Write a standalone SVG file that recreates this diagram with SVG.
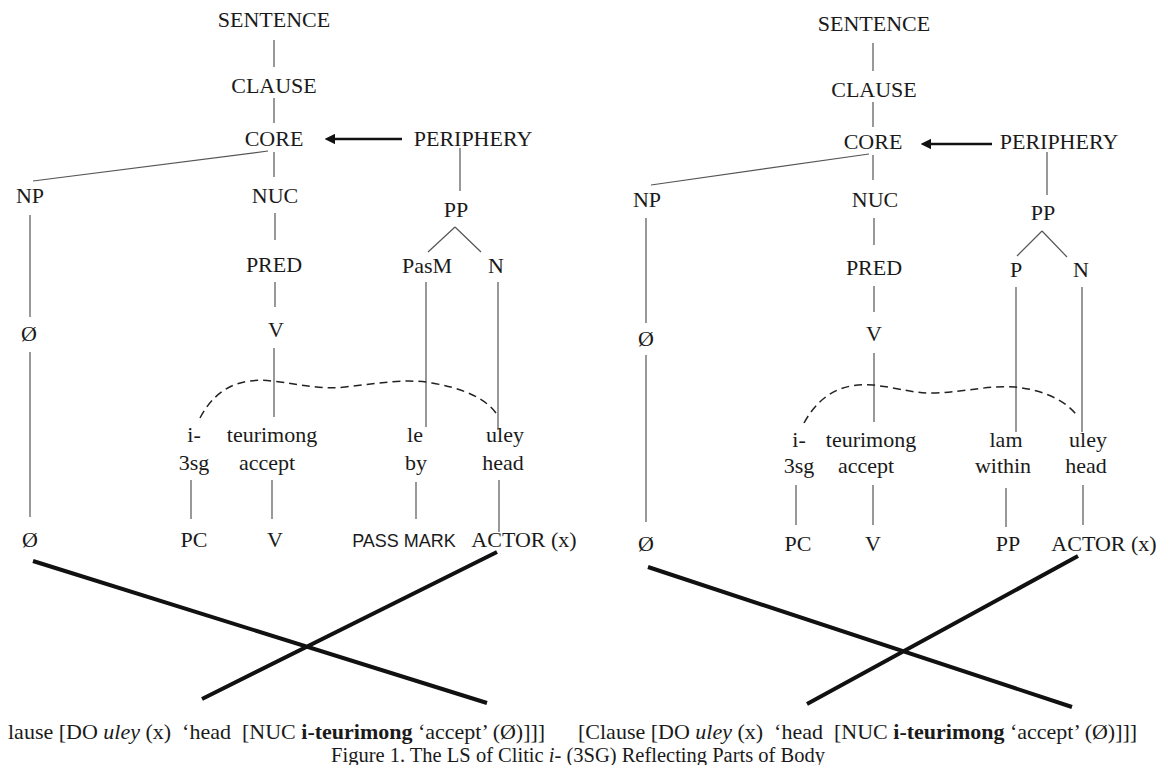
<svg xmlns="http://www.w3.org/2000/svg" width="1161" height="765" viewBox="0 0 1161 765">
<style>
text{font-family:"Liberation Serif","Times New Roman",serif;font-size:22px;fill:#1a1a1a;text-anchor:middle}
.sans{font-family:"Liberation Sans",Arial,sans-serif;font-size:18px}
.tl{fill:none;stroke:#555;stroke-width:1.2}
.dash{fill:none;stroke:#222;stroke-width:1.5;stroke-dasharray:8 5}
.arr{stroke:#111;stroke-width:2.6;fill:none}
.x{stroke:#111;stroke-width:4}
.bt{text-anchor:start}
.cap{font-size:20.5px}
</style>
<defs>
<marker id="ah" viewBox="0 0 10 10" refX="1" refY="5" markerWidth="4" markerHeight="4" orient="auto-start-reverse"><path d="M0,0 L10,5 L0,10 z" fill="#111"/></marker>
</defs>
<rect width="1161" height="765" fill="#fff"/>

<g id="connectors">
<!-- left tree -->
<path class="tl" d="M274,40V67 M274,98V123 M274,152V177 M268,151L33,181 M275,213V240 M275,282V307 M274,348V417 M460,148V191 M455,227L428,252 M455,227L481,252 M426,282V427 M498,282V430 M30,215V317 M30,352V517 M191,480V519 M272,480V519 M416,482V519 M499,480V532"/>
<path class="arr" d="M402,139H334" marker-end="url(#ah)"/>
<path class="dash" d="M200,418 C218,384 245,378 272,381 C300,384 320,390 345,387 C375,384 405,378 432,383 C462,388 485,398 496,413"/>
<path class="x" d="M33,561L487,703 M497,552L202,699"/>
<!-- right tree -->
<path class="tl" d="M873,43V71 M873,102V127 M873,155V180 M869,154L651,185 M874,218V245 M874,286V312 M874,353V422 M1047,152V195 M1042,231L1017,256 M1042,231L1067,257 M1016,287V432 M1082,287V432 M646,218V323 M646,355V522 M796,485V525 M873,485V525 M1006,488V527 M1083,485V525"/>
<path class="arr" d="M992,144H930" marker-end="url(#ah)"/>
<path class="dash" d="M804,423 C822,390 848,383 873,385 C900,388 915,394 936,393 C965,392 990,385 1015,387 C1045,390 1068,402 1078,417"/>
<path class="x" d="M648,567L1072,707 M1078,556L807,704"/>
</g>

<g id="left-tree">
<g id="l-sentence"><text x="274" y="27">SENTENCE</text></g>
<g id="l-clause"><text x="274" y="93">CLAUSE</text></g>
<g id="l-core"><text x="274" y="146">CORE</text></g>
<g id="l-periphery"><text x="473" y="146">PERIPHERY</text></g>
<g id="l-np"><text x="30" y="203">NP</text></g>
<g id="l-nuc"><text x="275" y="203">NUC</text></g>
<g id="l-pp"><text x="456" y="217">PP</text></g>
<g id="l-pred"><text x="274" y="272">PRED</text></g>
<g id="l-pasm"><text x="427" y="273">PasM</text></g>
<g id="l-n"><text x="496" y="273">N</text></g>
<g id="l-null1"><text x="29" y="341">Ø</text></g>
<g id="l-v"><text x="276" y="337">V</text></g>
<g id="l-i"><text x="194" y="442">i-</text><text x="194" y="470">3sg</text></g>
<g id="l-teurimong"><text x="272" y="442">teurimong</text><text x="267" y="470">accept</text></g>
<g id="l-le"><text x="415" y="442">le</text><text x="416" y="470">by</text></g>
<g id="l-uley"><text x="505" y="442">uley</text><text x="503" y="470">head</text></g>
<g id="l-null2"><text x="30" y="547">Ø</text></g>
<g id="l-pc"><text x="194" y="547">PC</text></g>
<g id="l-v2"><text x="275" y="547">V</text></g>
<g id="l-passmark"><text class="sans" x="404" y="547">PASS MARK</text></g>
<g id="l-actor"><text x="524" y="547">ACTOR (x)</text></g>
<g id="l-ls"><text class="bt" x="8" y="739" font-size="18" xml:space="preserve">lause [DO <tspan font-style="italic">uley</tspan> (x)  ‘head  [NUC <tspan font-weight="bold">i-teurimong</tspan> ‘accept’ (Ø)]]]</text></g>
</g>

<g id="right-tree">
<g id="r-sentence"><text x="874" y="31">SENTENCE</text></g>
<g id="r-clause"><text x="874" y="97">CLAUSE</text></g>
<g id="r-core"><text x="873" y="149">CORE</text></g>
<g id="r-periphery"><text x="1059" y="149">PERIPHERY</text></g>
<g id="r-np"><text x="647" y="207">NP</text></g>
<g id="r-nuc"><text x="875" y="207">NUC</text></g>
<g id="r-pp"><text x="1043" y="220">PP</text></g>
<g id="r-pred"><text x="874" y="275">PRED</text></g>
<g id="r-p"><text x="1016" y="277">P</text></g>
<g id="r-n"><text x="1081" y="277">N</text></g>
<g id="r-null1"><text x="646" y="346">Ø</text></g>
<g id="r-v"><text x="874" y="341">V</text></g>
<g id="r-i"><text x="799" y="447">i-</text><text x="799" y="473">3sg</text></g>
<g id="r-teurimong"><text x="871" y="447">teurimong</text><text x="866" y="473">accept</text></g>
<g id="r-lam"><text x="1006" y="447">lam</text><text x="1003" y="473">within</text></g>
<g id="r-uley"><text x="1088" y="447">uley</text><text x="1086" y="473">head</text></g>
<g id="r-null2"><text x="646" y="551">Ø</text></g>
<g id="r-pc"><text x="798" y="551">PC</text></g>
<g id="r-v2"><text x="873" y="551">V</text></g>
<g id="r-pp2"><text x="1008" y="551">PP</text></g>
<g id="r-actor"><text x="1104" y="551">ACTOR (x)</text></g>
<g id="r-ls"><text class="bt" x="578" y="739" font-size="20" xml:space="preserve">[Clause [DO <tspan font-style="italic">uley</tspan> (x)  ‘head  [NUC <tspan font-weight="bold">i-teurimong</tspan> ‘accept’ (Ø)]]]</text></g>
</g>

<g id="caption"><text class="cap" x="578" y="762">Figure 1. The LS of Clitic <tspan font-style="italic">i-</tspan> (3SG) Reflecting Parts of Body</text></g>
</svg>
